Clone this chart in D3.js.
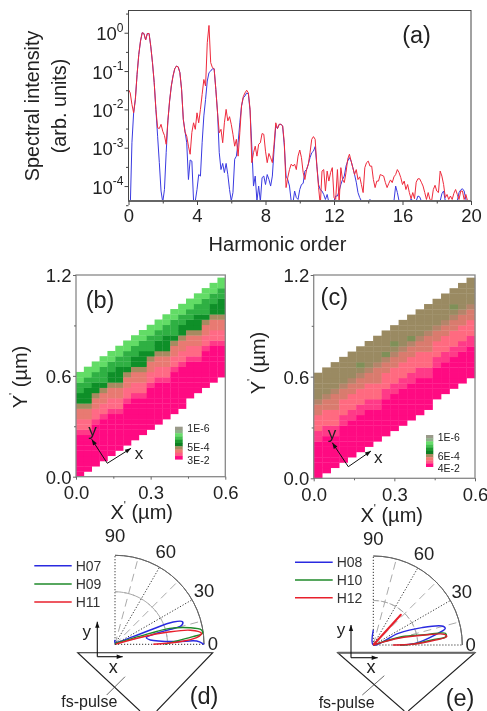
<!DOCTYPE html>
<html><head><meta charset="utf-8">
<script src="https://cdn.jsdelivr.net/npm/d3@7"></script>
<style>
html,body{margin:0;padding:0;background:#fff;overflow:hidden}
svg{display:block;filter:blur(0.4px)}
text{font-family:"Liberation Sans",Arial,sans-serif;fill:#222}
</style></head><body><svg id="c" width="487" height="711"></svg>
<script>
// Panel (a): log10 of spectral intensity, sampled every 0.1 harmonic order
const harmonicStep = 0.1;
const redLog = [-1.48,-1.57,-1.87,-2.09,-1.74,-1.09,-.57,-.22,0,-.02,-.19,-.02,-.02,-.35,-.78,-1.3,-2,-2.48,-2.5,-2.39,
-2.57,-2.68,-2.91,-2.3,-1.78,-1.39,-1.13,-.94,-.87,-.89,-1.04,-1.48,-2.26,-2.59,-2.7,-2.96,-3.17,-2.6,-2.35,-2.52,
-2.09,-2.35,-2,-1.61,-1.22,-1.39,-.26,.19,-.78,-.91,-.94,-1.48,-2.09,-2.61,-2.52,-2.87,-2.35,-2,-2.3,-2.19,
-2.39,-2.65,-2.96,-2.78,-3.22,-2.61,-1.91,-1.67,-1.57,-1.5,-1.57,-2,-3.39,-3.13,-2.96,-3.22,-2.91,-2.87,-2.63,-2.65,
-3.09,-3.39,-3.15,-3.26,-3.39,-2.91,-2.35,-2.5,-2.39,-2.39,-2.43,-2.87,-4.04,-3.78,-3.57,-3.43,-3.48,-3.43,-3.57,-3.22,
-3.06,-3.26,-3.65,-3.83,-3.57,-3.43,-3.13,-2.78,-2.71,-2.78,-3.48,-4.04,-4.5,-3.61,-3.57,-4.13,-3.61,-3.87,-3.65,-3.52,
-4.3,-4.35,-3.57,-4.45,-3.52,-3.83,-3.91,-3.65,-3.3,-3.17,-3.35,-3.52,-3.7,-3.57,-3.83,-3.76,-3.96,-4.17,-3.52,-3.39,
-3.35,-3.48,-3.48,-3.83,-4.04,-3.87,-3.87,-3.7,-3.72,-3.74,-3.91,-4.04,-3.93,-3.84,-3.91,-3.76,-3.7,-3.57,-3.65,-3.78,
-3.96,-3.87,-4.09,-3.96,-4.17,-4.33,-4.17,-4.33,-3.9,-3.81,-3.81,-3.9,-4,-4.17,-4.35,-4.17,-4.35,-4.39,-4.09,-3.98,
-4.13,-4.17,-3.61,-3.74,-3.96,-4.3,-4.22,-4.35,-4.26,-4.35,-4.19,-4.09,-4.22,-4.35,-4.13,-4.13,-4.35,-4.22,-4.39];
const blueLog = [-4.6,-4.6,-2.87,-2.09,-1.74,-1.09,-.57,-.22,0,-.02,-.19,-.02,-.02,-.35,-.78,-1.3,-2,-2.7,-3.39,-4.13,
-4.42,-4.09,-3.13,-2.3,-1.78,-1.39,-1.13,-.94,-.87,-.89,-1.04,-1.48,-2.26,-2.57,-2.87,-3.83,-3.32,-3.35,-4.39,-4.39,
-4.09,-3.7,-3.74,-2.87,-2.17,-1.74,-1.26,-1.04,-1,-.94,-.94,-1.48,-2.09,-3.13,-3.57,-3.41,-3.65,-3.41,-3.7,-4.09,
-4.39,-4.17,-3.3,-3.22,-2.87,-2.35,-1.91,-1.7,-1.65,-1.57,-1.6,-2.04,-2.96,-4,-3.74,-4.39,-4,-4.4,-3.78,-3.74,
-3.96,-3.7,-3.83,-4,-3.74,-3.04,-2.43,-2.5,-2.39,-2.39,-2.43,-2.96,-3.74,-3.83,-4,-4.39,-4.45,-4.13,-4.3,-4.35,
-4.09,-3.96,-3.93,-3.61,-3.57,-3.43,-3.26,-3.13,-3.09,-2.97,-3.48,-3.96,-4.1,-4.13,-4.22,-4.35,-4.22,-4.43,-4.5,-4.5,
-4.39,-4.26,-4.26,-4.13,-3.96,-3.83,-3.74,-3.48,-3.35,-3.26,-3.35,-3.52,-3.7,-3.9,-4.17,-4.3,-4.39,-4.5,-4.5,-4.5,
-4.45,-4.35,-4.5,-4.5,-4.5,-4.5,-4.5,-4.5,-4.5,-4.5,-4.5,-4.5,-4.5,-4.5,-4.5,-4.39,-4,-4.17,-4.39,-4.5,
-4.5,-4.5,-4.5,-4.5,-4.5,-4.33,-4.39,-4.5,-4.39,-4.26,-4.28,-4.39,-4.5,-4.5,-4.5,-4.5,-4.5,-4.5,-4.5,-4.5,
-4.5,-4.5,-4.39,-4.2,-4.13,-4.39,-4.5,-4.5,-4.5,-4.5,-4.5,-4.45,-4.39,-4.17,-4.1,-4.07,-4.13,-4.35,-4.42];
const xTicksA = [0,4,8,12,16,20];
const yExponents = [0,-1,-2,-3,-4];

// Panels (b), (c): cell levels per column, bottom to top, from each column's first row
const columnStart = [0,1,2,3,4,5,6,7,8,9,10,11,12,13,15,16,17,18,19];
const heatB = ["00000000122334556677","00000001223345556677","00000000122334556677","00000000122334566677",
"00000000122334556677","00000001223345556677","00000000122334566677","00000000122334556677","00000001223345556677",
"00000000122334566677","00000000122334556677","00000001223345556677","00000000122334566677","00000000122334556677",
"0000000122334556677","0000001223345556677","0000000122334566677","0000000122334556677","0000001223345556677"];
const heatC = ["00000001122233455555","00000001122233455555","00000011222333455555","00000001122233455555",
"00000001122233455555","00000001122233456555","00000001122233455555","00000011222333455555","00000001122233465555",
"00000001122233456555","00000001122233455555","00000001122233465555","00000001122233455555","00000011222333455555",
"0000001122233455555","0000001122233455555","0000001122233456555","0000001122233455555","0000001122233455555"];
const coloursB = ["#ff0a82","#ff3a88","#ff6a85","#e87a72","#a88a60","#0e8f28","#2fb043","#62dc66"];
const coloursC = ["#ff0a82","#ff3a88","#ff6a80","#d97b6e","#b5846a","#9a8a62","#7f9058"];
const legendBar = ["#9a9a8a","#8fb08a","#66dc6a","#44c050","#1d9a30","#0e7f22","#a88a60","#ef7a70","#ff5a85","#ff0a82"];
const legendB = ["1E-6","5E-4","3E-2"];
const legendC = ["1E-6","6E-4","4E-2"];
const heatTicksX = [0,0.3,0.6];
const heatTicksY = [0,0.6,1.2];
const heatMinorX = [0.15,0.45];
const heatMinorY = [0.3,0.9];

// Panels (d), (e): polar lobes, angle in degrees and normalised radius
const h07Angle=[90,90,23,22,21,18.5,16,15,12,7,2.5,2.3,0];
const h07R=[.05,.02,.22,.42,.70,.80,.78,.52,.36,.40,.69,.92,1.0];
const h09Angle=[90,17.4,16.2,12.5,9.4,7.2,5.6,2.6,0];
const h09R=[.01,.41,.64,.86,.985,.99,.88,.66,.56];
const h11Angle=[20,15.1,13,10.6,7.2,4.7,1.9,0];
const h11R=[.01,.33,.6,.86,.98,.92,.69,.43];
const h08Angle=[90,90,25,19.7,15.5,13,9.2,2.3,0];
const h08R=[.17,0,.31,.58,.80,.83,.70,.47,.3];
const h10Angle=[25,16.4,11.3,9.2,6.5,4.9,1,0];
const h10R=[0,.33,.59,.82,.82,.66,.43,.3];
const h12SpikeAngle=[50,47.7,45.5];
const h12SpikeR=[0,.46,0];
const h12Angle=[25,15,11,8.5,6.5,4.6,1,0];
const h12R=[0,.29,.59,.81,.83,.70,.43,.22];
const polarAngles=[0,30,60,90];
const polarDashAngles=[15,45,75];

const svg=d3.select("#c");
const txt=(x,y,s,size,anchor="middle",rot=null,g=svg)=>{
  const t=g.append("text").attr("x",x).attr("y",y).attr("font-size",size).attr("text-anchor",anchor)
    .attr("dominant-baseline","central").text(s);
  if(rot!==null)t.attr("transform",`rotate(${rot} ${x} ${y})`);
  return t;
};

// ---- Panel (a)
const xA=d3.scaleLinear().domain([0,20]).range([128.5,471]);
const yA=d3.scaleLog().domain([Math.pow(10,-4.39),Math.pow(10,0.58)]).range([201,10.5]);
svg.append("clipPath").attr("id","clipA").append("rect").attr("x",128.5).attr("y",10.5).attr("width",342.5).attr("height",190.5);
const lineA=d3.line().x((d,i)=>xA(i*harmonicStep)).y(d=>yA(Math.pow(10,d)));
const gA=svg.append("g").attr("clip-path","url(#clipA)");
gA.append("path").attr("d",lineA(blueLog)).attr("fill","none").attr("stroke","#3a3ae0").attr("stroke-width",1);
gA.append("path").attr("d",lineA(redLog)).attr("fill","none").attr("stroke","#ee2a3c").attr("stroke-width",1);
svg.append("rect").attr("x",128.5).attr("y",10.5).attr("width",342.5).attr("height",190.5).attr("fill","none").attr("stroke","#444").attr("stroke-width",1);
svg.append("line").attr("x1",128.5).attr("x2",471).attr("y1",201).attr("y2",201).attr("stroke","#666").attr("stroke-width",2);
const axXA=svg.append("g").attr("transform","translate(0,201)").call(d3.axisBottom(xA).tickValues(xTicksA).tickSize(4).tickFormat(d=>d));
axXA.select(".domain").remove();
axXA.selectAll("text").attr("font-size",18.5).attr("y",8).attr("dy","0.71em");
axXA.selectAll("line").attr("stroke","#444");
const axXAm=svg.append("g").attr("transform","translate(0,201)").call(d3.axisBottom(xA).tickValues(d3.range(2,20,4)).tickSize(2.5).tickFormat(""));
axXAm.select(".domain").remove();axXAm.selectAll("line").attr("stroke","#444");
const yTickVals=yExponents.map(e=>Math.pow(10,e));
const axYA=svg.append("g").attr("transform","translate(128.5,0)").call(d3.axisLeft(yA).tickValues(yTickVals).tickSize(4).tickFormat(""));
axYA.select(".domain").remove();axYA.selectAll("line").attr("stroke","#444");
yExponents.forEach(e=>{
  const y=yA(Math.pow(10,e));
  const t=svg.append("text").attr("x",123.5).attr("y",y+7.5).attr("font-size",18.5).attr("text-anchor","end");
  t.append("tspan").text("10");
  t.append("tspan").attr("font-size",12).attr("dy",-8.5).text(e===0?"0":"-"+(-e));
});
const yMinor=[];yExponents.forEach(e=>{[-.5].forEach(o=>yMinor.push(Math.pow(10,e+o)))});
const axYAm=svg.append("g").attr("transform","translate(128.5,0)").call(d3.axisLeft(yA).tickValues(yMinor.concat([Math.pow(10,0.5)])).tickSize(2.5).tickFormat(""));
axYAm.select(".domain").remove();axYAm.selectAll("line").attr("stroke","#444");
txt(32,106,"Spectral intensity",19.8,"middle",-90);
txt(59,106,"(arb. units)",19.8,"middle",-90);
txt(277.5,244,"Harmonic order",20);
txt(416.5,35,"(a)",23.5);

// ---- Heat panels
function heat(opts){
  const x=d3.scaleLinear().domain([0,.6]).range(opts.xr);
  const y=d3.scaleLinear().domain([0,1.2]).range(opts.yr);
  const dx=.6/19, dy=1.2/38.5;
  const col=d3.scaleOrdinal().domain(d3.range(opts.colours.length).map(String)).range(opts.colours);
  const g=svg.append("g");
  opts.data.forEach((s,c)=>{
    s.split("").forEach((lv,k)=>{
      const r=columnStart[c]+k;
      g.append("rect").attr("x",x(c*dx)).attr("y",y((r+1)*dy)).attr("width",x(dx)-x(0)+.3)
       .attr("height",y(0)-y(dy)+.3).attr("fill",col(lv));
    });
  });
  svg.append("rect").attr("x",opts.xr[0]).attr("y",opts.yr[1]).attr("width",opts.xr[1]-opts.xr[0])
    .attr("height",opts.yr[0]-opts.yr[1]).attr("fill","none").attr("stroke","#888").attr("stroke-width",1.3);
  const ax=svg.append("g").attr("transform",`translate(0,${opts.yr[0]})`).call(d3.axisBottom(x).tickValues(heatTicksX).tickSize(3).tickFormat(d3.format(".1f")));
  ax.select(".domain").remove();ax.selectAll("line").attr("stroke","#666");
  ax.selectAll("text").attr("font-size",18.5).attr("y",opts.xTickGap).attr("dy","0.71em");
  const ay=svg.append("g").attr("transform",`translate(${opts.xr[0]},0)`).call(d3.axisLeft(y).tickValues(heatTicksY).tickSize(3).tickFormat(d3.format(".1f")));
  ay.select(".domain").remove();ay.selectAll("line").attr("stroke","#666");
  ay.selectAll("text").attr("font-size",18.5).attr("x",-4.5).attr("dy","0.36em");
  const mx=svg.append("g").attr("transform",`translate(0,${opts.yr[0]})`).call(d3.axisBottom(x).tickValues(heatMinorX).tickSize(2).tickFormat(""));
  mx.select(".domain").remove();mx.selectAll("line").attr("stroke","#666");
  const my=svg.append("g").attr("transform",`translate(${opts.xr[0]},0)`).call(d3.axisLeft(y).tickValues(heatMinorY).tickSize(2).tickFormat(""));
  my.select(".domain").remove();my.selectAll("line").attr("stroke","#666");
  // colour bar
  const bs=(opts.bar[3]-opts.bar[1])/legendBar.length;
  legendBar.forEach((c,i)=>svg.append("rect").attr("x",opts.bar[0]).attr("y",opts.bar[1]+i*bs).attr("width",opts.bar[2]).attr("height",bs+.3).attr("fill",c));
  opts.legend.forEach((l,i)=>txt(opts.barText[0],opts.barText[1][i],l,10.5,"start"));
  // coordinate arrows
  const [o,yt,xt]=opts.arrows;
  [[o,yt],[o,xt]].forEach(([a,b])=>{
    svg.append("line").attr("x1",a[0]).attr("y1",a[1]).attr("x2",b[0]).attr("y2",b[1]).attr("stroke","#111").attr("stroke-width",1);
    const ang=Math.atan2(b[1]-a[1],b[0]-a[0]);
    const p=(l,w)=>[b[0]-l*Math.cos(ang)-w*Math.sin(ang),b[1]-l*Math.sin(ang)+w*Math.cos(ang)];
    svg.append("path").attr("d",d3.line()([b,p(6,2.2),p(6,-2.2)])+"Z").attr("fill","#111");
  });
  txt(opts.yLab[0],opts.yLab[1],"y",17);txt(opts.xLab[0],opts.xLab[1],"x",17);
  txt(opts.tag[0],opts.tag[1],opts.tagText,23.5);
  const mk=(t,letter)=>{t.append("tspan").text(letter);t.append("tspan").attr("font-size",11).attr("dy",-7).text("'");t.append("tspan").attr("dy",7).text(" (µm)");};
  mk(txt(opts.xTitle[0],opts.xTitle[1],"",20),"X");
  mk(txt(opts.yTitle[0],opts.yTitle[1],"",20,"middle",-90),"Y");
}
heat({xr:[76,225.3],yr:[476.7,275],xTickGap:9.5,data:heatB,colours:coloursB,legend:legendB,bar:[175,426.7,7.7,459.3],
  barText:[187.3,[428.3,446.7,460]],arrows:[[107.3,463.3],[91.7,439.3],[131,448.3]],yLab:[92.5,430],xLab:[139,453],
  tag:[100,300],tagText:"(b)",xTitle:[141.7,511.7],yTitle:[20,377]});
heat({xr:[313.7,475],yr:[478.3,275],xTickGap:9.5,data:heatC,colours:coloursC,legend:legendC,bar:[426,435,7.3,466.7],
  barText:[437.7,[436.7,455.7,467.7]],arrows:[[348.3,466.7],[332.3,442.7],[371,451]],yLab:[332,433],xLab:[378.3,457],
  tag:[334.3,296.7],tagText:"(c)",xTitle:[391.7,515],yTitle:[257.7,363]});

// ---- Polar panels
function polar(o){
  const g=svg.append("g").attr("transform",`translate(${o.c[0]},${o.c[1]})`);
  const r=d3.scaleLinear().domain([0,1]).range([0,89]);
  const rad=d=>(90-d)*Math.PI/180;
  const pt=(a,v)=>[r(v)*Math.sin(rad(a)),-r(v)*Math.cos(rad(a))];
  polarDashAngles.forEach(a=>{const p=pt(a,1);g.append("line").attr("x2",p[0]).attr("y2",p[1]).attr("stroke","#aaa").attr("stroke-dasharray","8 5").attr("stroke-width",1);});
  polarAngles.forEach(a=>{const p=pt(a,1);g.append("line").attr("x2",p[0]).attr("y2",p[1]).attr("stroke","#333").attr("stroke-dasharray","1.2 1.8").attr("stroke-width",1);});
  const arc=d3.arc().startAngle(0).endAngle(Math.PI/2);
  g.append("path").attr("d",arc({innerRadius:r(o.mid),outerRadius:r(o.mid)})).attr("fill","none").attr("stroke","#aaa").attr("stroke-dasharray","6 3");
  g.append("path").attr("d",arc({innerRadius:r(1),outerRadius:r(1)})).attr("fill","none").attr("stroke","#666").attr("stroke-width",1);
  const line=d3.lineRadial().curve(d3.curveCatmullRom.alpha(.5)).angle(d=>rad(d[0])).radius(d=>r(d[1]));
  o.curves.forEach(c=>{
    g.append("path").attr("d",(c.straight?line.curve(d3.curveLinear):line.curve(d3.curveCatmullRom.alpha(.5)))(d3.zip(c.a,c.r)))
     .attr("fill",c.fill||"none").attr("stroke",c.col).attr("stroke-width",c.w||1.4).attr("stroke-linejoin","round");
  });
  o.labels.forEach(l=>txt(l[0],l[1],l[2],18.5));
  o.legend.forEach((l,i)=>{
    svg.append("line").attr("x1",o.lx[0]).attr("x2",o.lx[1]).attr("y1",o.ly[i]).attr("y2",o.ly[i]).attr("stroke",l[1]).attr("stroke-width",1.4);
    txt(o.lx[1]+4,o.ly[i],l[0],14,"start").style("fill","#333");
  });
  // prism base and beam
  svg.append("path").attr("d",d3.line()(o.tri)).attr("fill","none").attr("stroke","#222").attr("stroke-width",1.1);
  if(o.thick)svg.append("line").attr("x1",o.tri[1][0]).attr("x2",o.tri[2][0]).attr("y1",o.tri[1][1]).attr("y2",o.tri[1][1]).attr("stroke","#666").attr("stroke-width",2);
  const [ax,ay,ayt,axt]=o.ax;
  [[ax,ayt,ax,ay],[axt,ay,ax,ay]].forEach(([tx,ty,fx,fy])=>{
    svg.append("line").attr("x1",fx).attr("y1",fy).attr("x2",tx).attr("y2",ty).attr("stroke","#111").attr("stroke-width",1.1);
  });
  svg.append("path").attr("d",d3.line()([[ax,ayt],[ax-2.2,ayt+6],[ax+2.2,ayt+6]])+"Z").attr("fill","#111");
  svg.append("path").attr("d",d3.line()([[axt,ay],[axt-6,ay-2.2],[axt-6,ay+2.2]])+"Z").attr("fill","#111");
  txt(o.yl[0],o.yl[1],"y",17);txt(o.xl[0],o.xl[1],"x",18);
  txt(o.fs[0],o.fs[1],"fs-pulse",16);
  svg.append("line").attr("x1",o.fsl[0]).attr("y1",o.fsl[1]).attr("x2",o.fsl[2]).attr("y2",o.fsl[3]).attr("stroke","#444").attr("stroke-width",.8);
  txt(o.tag[0],o.tag[1],o.tagText,23.5);
}
polar({c:[115,644.3],mid:.59,
 curves:[{a:h07Angle,r:h07R,col:"#2a2ae0",w:1.5},{a:h09Angle,r:h09R,col:"#1f8a2a"},{a:h11Angle,r:h11R,col:"#e8202c",w:1.5}],
 labels:[[115,535.7,"90"],[165.7,551,"60"],[204,590,"30"],[213,643.3,"0"]],
 legend:[["H07","#2a2ae0"],["H09","#1f8a2a"],["H11","#e8202c"]],lx:[34.3,71.7],ly:[565.7,584,602],
 tri:[[140,711],[77.7,652.7],[212.7,652.7],[156.7,711]],ax:[97.3,656.7,621.7,122.7],yl:[86.7,631],xl:[113.3,666.7],
 fs:[89.3,701.5],fsl:[106.7,695,125,676.7],tag:[204,695.7],tagText:"(d)"});
polar({c:[373.3,645],mid:.5,
 curves:[{a:h08Angle,r:h08R,col:"#2a2ae0",w:1.4},{a:h10Angle,r:h10R,col:"#1f8a2a"},{a:h12Angle,r:h12R,col:"#d8202c",w:1.5},
  {a:h12SpikeAngle,r:h12SpikeR,col:"#e8202c",w:2,straight:true,fill:"#e8202c"}],
 labels:[[373.3,538.3,"90"],[424,553.3,"60"],[461.7,591.7,"30"],[470.7,644,"0"]],
 legend:[["H08","#2a2ae0"],["H10","#1f8a2a"],["H12","#e8202c"]],lx:[295,332.7],ly:[562.3,580,597.7],
 tri:[[404.3,711],[337.7,652.7],[475,652.7],[408.3,711]],thick:true,ax:[351,657.7,625,377.7],yl:[341,629.3],xl:[371,666.7],
 fs:[346.7,702],fsl:[362.3,695,384.3,675.7],tag:[460,697.7],tagText:"(e)"});
</script></body></html>
